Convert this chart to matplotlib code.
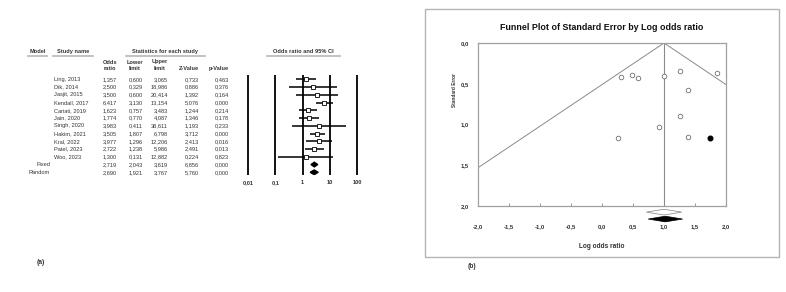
import numpy as np
import matplotlib.pyplot as plt
from matplotlib.patches import Rectangle

W, H = 786, 292
plt.rcParams['font.family'] = ['Liberation Sans', 'DejaVu Sans']

# forest plot table (a)
studies = ['Ling, 2013', 'Dik, 2014', 'Jasjit, 2015', 'Kendall, 2017', 'Cariati, 2019',
           'Jain, 2020', 'Singh, 2020', 'Hakim, 2021', 'Kral, 2022', 'Patel, 2023', 'Woo, 2023']
odds = [1.357, 2.500, 3.500, 6.417, 1.623, 1.774, 3.983, 3.505, 3.977, 2.722, 1.300]
lower = [0.600, 0.329, 0.600, 3.130, 0.757, 0.770, 0.411, 1.807, 1.296, 1.238, 0.131]
upper = [3.065, 18.986, 20.414, 13.154, 3.483, 4.087, 38.611, 6.798, 12.206, 5.986, 12.882]
zval = [0.733, 0.886, 1.392, 5.076, 1.244, 1.346, 1.193, 3.712, 2.413, 2.491, 0.224]
pval = [0.463, 0.376, 0.164, 0.000, 0.214, 0.178, 0.233, 0.000, 0.016, 0.013, 0.823]

models = ['Fixed', 'Random']
sum_or = [2.719, 2.690]
sum_lo = [2.043, 1.921]
sum_hi = [3.619, 3.767]
sum_z = [6.856, 5.760]
sum_p = [0.000, 0.000]

forest_ticks = [0.01, 0.1, 1, 10, 100]
forest_labels = ['0,01', '0,1', '1', '10', '100']

# funnel plot (b)
imputed_logor = [1.74]
imputed_se = [1.171]
adj_diamond = [0.745, 1.02, 1.30]   # lower, point, upper (log scale)
funnel_xticks = [-2.0, -1.5, -1.0, -0.5, 0.0, 0.5, 1.0, 1.5, 2.0]
funnel_yticks = [0.0, 0.5, 1.0, 1.5, 2.0]


def comma(v, fmt='{:.3f}'):
    return fmt.format(v).replace('.', ',')


def txt(x, y, s, **kw):
    kw.setdefault('va', 'center')
    return fig.text(x / W, 1 - y / H, s, **kw)


fig = plt.figure(figsize=(W / 100, H / 100), dpi=100)
fs = 4.1
tc = '#333333'

# ---- headers of the table
heads = [('Model', 28, 47), ('Study name', 53, 93),
         ('Statistics for each study', 126, 205), ('Odds ratio and 95% CI', 267, 340)]
for s, x0, x1 in heads:
    txt((x0 + x1) / 2, 51.5, s, ha='center', fontsize=fs, fontweight='bold', color=tc)
    fig.add_artist(plt.Line2D([x0 / W, x1 / W], [1 - 55.5 / H] * 2,
                              transform=fig.transFigure, color='#bdbdbd', lw=1.3))

col_right = [117, 143, 168, 199, 229]
col_head = [('Odds', 'ratio'), ('Lower', 'limit'), ('Upper', 'limit'), ('', 'Z-Value'), ('', 'p-Value')]
col_center = [110, 135, 160, 189, 219]
for (h1, h2), xc in zip(col_head, col_center):
    if h1:
        txt(xc, 62, h1, ha='center', fontsize=fs, fontweight='bold', color=tc)
    txt(xc, 69, h2, ha='center', fontsize=fs, fontweight='bold', color=tc)

y0, dy = 79.3, 7.75
n = len(studies)
for i in range(n):
    y = y0 + i * dy
    txt(54, y, studies[i], ha='left', fontsize=fs, color=tc)
    for xr, v in zip(col_right, [odds[i], lower[i], upper[i], zval[i], pval[i]]):
        txt(xr, y, comma(v), ha='right', fontsize=fs, color=tc)
for j in range(len(models)):
    y = y0 + (n + j) * dy
    txt(50, y, models[j], ha='right', fontsize=fs, color=tc)
    for xr, v in zip(col_right, [sum_or[j], sum_lo[j], sum_hi[j], sum_z[j], sum_p[j]]):
        txt(xr, y, comma(v), ha='right', fontsize=fs, color=tc)

# ---- forest axes
ax = fig.add_axes([248 / W, 1 - 175 / H, (357 - 248) / W, (175 - 75) / H])
ax.set_xscale('log')
ax.set_xlim(0.01, 100)
top = -(y0 - 75) / dy
bot = (175 - y0) / dy
ax.set_ylim(bot, top)
for s in ax.spines.values():
    s.set_visible(False)
ax.vlines(forest_ticks, bot, top, color='black', lw=1.3, clip_on=False)
rows = np.arange(n)
ax.hlines(rows, lower, upper, color='black', lw=1.1, zorder=3)
ax.plot(odds, rows, ls='none', marker='s', ms=3.5, mfc='white', mec='black', mew=0.6, zorder=4)
for j in range(len(models)):
    r = n + j
    h = 0.3
    ax.fill([sum_lo[j], sum_or[j], sum_hi[j], sum_or[j]], [r, r - h, r, r + h],
            color='black', zorder=4)
ax.set_yticks([])
ax.set_xticks(forest_ticks)
ax.set_xticklabels(forest_labels, fontsize=fs, fontweight='bold', color=tc)
ax.xaxis.set_minor_locator(plt.NullLocator())
ax.tick_params(axis='x', length=0, pad=3.5)

txt(37, 263, '(a)', ha='left', fontsize=4.8, fontweight='bold', color=tc)

# ---- funnel plot
fig.add_artist(Rectangle((425 / W, 1 - 257 / H), (779 - 425) / W, (257 - 9) / H,
                         transform=fig.transFigure, fill=False, ec='#b3b3b3', lw=1.0))
txt(602, 28, 'Funnel Plot of Standard Error by Log odds ratio', ha='center',
    fontsize=6.4, fontweight='bold', color='#111')

lor = np.log(odds)
se = (np.log(upper) - np.log(lower)) / (2 * 1.96)
center = np.log(sum_or[0])

ax2 = fig.add_axes([478 / W, 1 - 206 / H, (726 - 478) / W, (206 - 43) / H])
ax2.set_xlim(-2, 2)
ax2.set_ylim(2, 0)
for s in ax2.spines.values():
    s.set_color('#a0a0a0')
    s.set_linewidth(0.9)
se_line = np.array([0.0, 2.0])
ax2.plot(center - 1.96 * se_line, se_line, color='#8a8a8a', lw=0.7)
ax2.plot(center + 1.96 * se_line, se_line, color='#8a8a8a', lw=0.7)
ax2.plot([center, center], [0, 2], color='#8a8a8a', lw=0.8)
ax2.plot(lor, se, ls='none', marker='o', ms=3.3, mfc='white', mec='#707070', mew=0.6)
ax2.plot(imputed_logor, imputed_se, ls='none', marker='o', ms=3.3, mfc='black', mec='black')

fix_lo, fix_hi = np.log(sum_lo[0]), np.log(sum_hi[0])
hd = 0.035
ax2.fill([fix_lo, center, fix_hi, center], [2.075, 2.075 - hd, 2.075, 2.075 + hd],
         fc='white', ec='#808080', lw=0.5, clip_on=False)
ax2.fill([adj_diamond[0], adj_diamond[1], adj_diamond[2], adj_diamond[1]],
         [2.16, 2.16 - hd, 2.16, 2.16 + hd], fc='black', ec='black', lw=0.5, clip_on=False)

ax2.set_xticks(funnel_xticks)
ax2.set_xticklabels([comma(v, '{:.1f}') for v in funnel_xticks])
ax2.set_yticks(funnel_yticks)
ax2.set_yticklabels([comma(v, '{:.1f}') for v in funnel_yticks])
ax2.tick_params(axis='x', direction='in', length=2, width=0.6, color='#888', pad=13,
                labelsize=4.2, labelcolor=tc)
ax2.tick_params(axis='y', length=0, pad=6.5, labelsize=4.2, labelcolor=tc)
for lb in ax2.get_xticklabels() + ax2.get_yticklabels():
    lb.set_fontweight('bold')

txt(455, 90, 'Standard Error', ha='center', rotation=90, fontsize=3.4,
    fontweight='bold', color=tc)
txt(602, 247, 'Log odds ratio', ha='center', fontsize=4.7, fontweight='bold', color=tc)
txt(468, 267, '(b)', ha='left', fontsize=4.8, fontweight='bold', color=tc)

fig.savefig('out.png', dpi=100, facecolor='white')
